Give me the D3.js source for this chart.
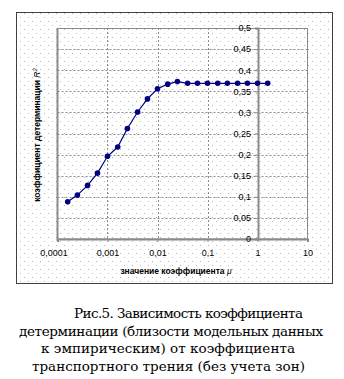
<!DOCTYPE html>
<html>
<head>
<meta charset="utf-8">
<script src="https://cdn.jsdelivr.net/npm/d3@7"></script>
<style>
  html, body { margin: 0; padding: 0; background: #fff; }
  svg { display: block; }
  .caption { font-family: "DejaVu Serif", "Liberation Serif", "Times New Roman", serif; }
  .axis-font { font-family: "Liberation Sans", Arial, sans-serif; }
</style>
</head>
<body>
<svg id="chart" width="344" height="379"></svg>
<script>
// Friction coefficient values (log axis) and coefficient of determination R²
const mu = [0.00016, 0.00025, 0.0004, 0.00063, 0.001, 0.0016, 0.0025, 0.004, 0.0063,
            0.01, 0.016, 0.025, 0.04, 0.063, 0.1, 0.16, 0.25, 0.4, 0.63, 1, 1.6];
const r2 = [0.088, 0.104, 0.127, 0.156, 0.196, 0.218, 0.262, 0.301, 0.332,
            0.356, 0.367, 0.373, 0.369, 0.369, 0.369, 0.369, 0.369, 0.369, 0.369, 0.369, 0.369];
const xTicks = [0.0001, 0.001, 0.01, 0.1, 1, 10];
const xTickLabels = ["0,0001", "0,001", "0,01", "0,1", "1", "10"];
const yTicks = [0, 0.05, 0.1, 0.15, 0.2, 0.25, 0.3, 0.35, 0.4, 0.45, 0.5];
const yTickLabels = ["0", "0,05", "0,1", "0,15", "0,2", "0,25", "0,3", "0,35", "0,4", "0,45", "0,5"];
const captionLines = [
  "Рис.5. Зависимость коэффициента",
  "детерминации (близости модельных данных",
  "к эмпирическим) от коэффициента",
  "транспортного трения (без учета зон)"
];

const svg = d3.select("#chart");

// dotted fill used for the chart area
const defs = svg.append("defs");
const pat = defs.append("pattern")
  .attr("id", "dots").attr("patternUnits", "userSpaceOnUse")
  .attr("width", 8).attr("height", 8);
pat.append("rect").attr("width", 8).attr("height", 8).attr("fill", "#fff");
pat.append("rect").attr("x", 0).attr("y", 5).attr("width", 1).attr("height", 1).attr("fill", "#b4b4b4");
pat.append("rect").attr("x", 4).attr("y", 1).attr("width", 1).attr("height", 1).attr("fill", "#b4b4b4");

// outer chart frame
svg.append("rect")
  .attr("x", 16.5).attr("y", 12.5).attr("width", 316).attr("height", 271)
  .attr("fill", "url(#dots)").attr("stroke", "#404040").attr("stroke-width", 1);

const plot = { left: 57.5, right: 307.5, top: 28, bottom: 239 };

const x = d3.scaleLog().domain([0.0001, 10]).range([plot.left, plot.right]);
const y = d3.scaleLinear().domain([0, 0.5]).range([plot.bottom, plot.top]);

const g = svg.append("g");

// gridlines
g.selectAll("line.hgrid")
  .data(yTicks.filter(v => v > 0 && v < 0.5))
  .join("line")
  .attr("x1", plot.left).attr("x2", plot.right)
  .attr("y1", d => Math.round(y(d)) + 0.5).attr("y2", d => Math.round(y(d)) + 0.5)
  .attr("stroke", "#8a8a8a").attr("stroke-width", 1).attr("stroke-dasharray", "2,2");
g.selectAll("line.vgrid")
  .data(xTicks.filter(v => v > 0.0001 && v < 10 && v !== 1))
  .join("line")
  .attr("x1", d => Math.round(x(d)) + 0.5).attr("x2", d => Math.round(x(d)) + 0.5)
  .attr("y1", plot.top).attr("y2", plot.bottom)
  .attr("stroke", "#8a8a8a").attr("stroke-width", 1).attr("stroke-dasharray", "2,2");

// plot area border
g.append("rect")
  .attr("x", plot.left).attr("y", plot.top + 0.5)
  .attr("width", plot.right - plot.left).attr("height", plot.bottom - plot.top - 0.5)
  .attr("fill", "none").attr("stroke", "#8a8a8a").attr("stroke-width", 1);
g.append("line")
  .attr("x1", plot.left).attr("x2", plot.left)
  .attr("y1", plot.top).attr("y2", plot.bottom + 2)
  .attr("stroke", "#8a8a8a").attr("stroke-width", 2);

// x axis along the bottom
const xAxis = d3.axisBottom(x)
  .tickValues(xTicks)
  .tickFormat((d, i) => xTickLabels[i])
  .tickSize(3).tickPadding(8);
const gx = svg.append("g").attr("transform", `translate(0,${plot.bottom})`).call(xAxis);
gx.attr("font-family", null);
gx.select(".domain").attr("stroke", "#8a8a8a").attr("stroke-width", 2);
gx.selectAll(".tick line").attr("stroke", "#8a8a8a");
gx.selectAll(".tick text")
  .attr("class", "axis-font")
  .attr("font-size", 9).attr("fill", "#000");
gx.selectAll(".tick").filter(d => d === 0.0001).select("text").attr("dx", -4);

// y axis crossing at mu = 1
const yAxis = d3.axisLeft(y)
  .tickValues(yTicks)
  .tickFormat((d, i) => yTickLabels[i])
  .tickSize(3).tickPadding(4);
const gy = svg.append("g").attr("transform", `translate(${Math.round(x(1))},0)`).call(yAxis);
gy.attr("font-family", null);
gy.select(".domain").attr("stroke", "#8a8a8a").attr("stroke-width", 2);
gy.selectAll(".tick line").attr("stroke", "#8a8a8a");
gy.selectAll(".tick text")
  .attr("class", "axis-font")
  .attr("font-size", 9).attr("fill", "#000");

// data line and markers
const pts = mu.map((m, i) => [m, r2[i]]);
svg.append("path")
  .datum(pts)
  .attr("fill", "none").attr("stroke", "#000080").attr("stroke-width", 1.2)
  .attr("d", d3.line().x(d => x(d[0])).y(d => y(d[1])));
svg.selectAll("circle.pt")
  .data(pts)
  .join("circle")
  .attr("cx", d => x(d[0])).attr("cy", d => y(d[1])).attr("r", 2.8)
  .attr("fill", "#000080");

// axis titles
const xTitle = svg.append("text")
  .attr("class", "axis-font")
  .attr("x", 176).attr("y", 274)
  .attr("text-anchor", "middle")
  .attr("font-size", 8.5).attr("font-weight", "bold").attr("fill", "#000");
xTitle.append("tspan").text("значение коэффициента ");
xTitle.append("tspan").attr("font-style", "italic").attr("font-weight", "normal").text("μ");

const yTitle = svg.append("text")
  .attr("class", "axis-font")
  .attr("transform", "translate(40,135) rotate(-90)")
  .attr("text-anchor", "middle")
  .attr("font-size", 8.5).attr("font-weight", "bold").attr("fill", "#000");
yTitle.append("tspan").text("коэффициент детерминации ");
yTitle.append("tspan").attr("font-style", "italic").attr("font-weight", "normal").text("R");
yTitle.append("tspan").attr("font-style", "italic").attr("font-weight", "normal")
  .attr("font-size", 6).attr("dy", -3).text("2");

// figure caption, centred lines with an indented first line
const capY = [318, 335.5, 353, 370.5];
const capLeft = [74, 19, 41, 32];
const capWidth = [229, 304, 254, 273];
svg.selectAll("text.caption")
  .data(captionLines)
  .join("text")
  .attr("class", "caption")
  .attr("x", (d, i) => capLeft[i]).attr("y", (d, i) => capY[i])
  .attr("text-anchor", "start")
  .attr("textLength", (d, i) => capWidth[i])
  .attr("lengthAdjust", "spacing")
  .attr("font-size", 13.5).attr("fill", "#000")
  .text(d => d);
</script>
</body>
</html>
